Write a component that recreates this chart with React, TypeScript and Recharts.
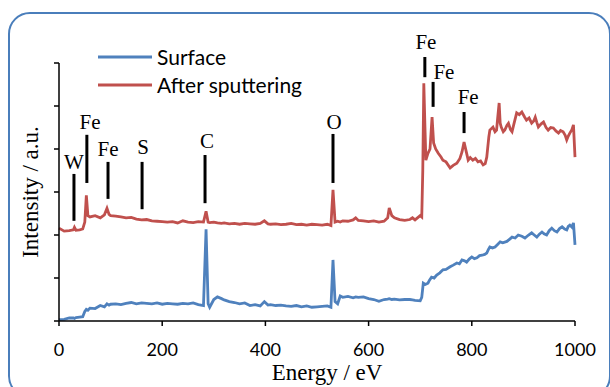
import { LineChart, Line, XAxis, YAxis, ReferenceLine, ReferenceDot } from "recharts";

// XPS survey spectra, energy in eV, intensity in arbitrary units
// low-energy part, shared energy grid (0 - 690 eV)
const lowEnergy = [
  0, 10, 20, 28, 30, 33, 40, 46, 50, 53, 56, 60, 70, 80, 88, 93, 97, 100, 110, 120,
  130, 140, 150, 160, 170, 180, 190, 200, 210, 220, 230, 240, 250, 260, 270, 280, 285, 289, 292, 300,
  307, 315, 320, 330, 340, 350, 360, 370, 380, 390, 398, 405, 410, 420, 430, 440, 450, 460, 470, 480,
  490, 500, 510, 520, 527, 531, 535, 540, 545, 550, 560, 570, 575, 580, 590, 600, 610, 620, 630, 637,
  640, 645, 650, 660, 670, 680, 685, 690,
];

const surfaceLow = [
  0.03, 0.04, 0.07, 0.07, 0.06, 0.08, 0.09, 0.1, 0.22, 0.27, 0.25, 0.3, 0.29, 0.36, 0.33, 0.4, 0.37, 0.39, 0.4, 0.38,
  0.41, 0.43, 0.4, 0.42, 0.41, 0.4, 0.42, 0.39, 0.41, 0.4, 0.39, 0.41, 0.4, 0.42, 0.38, 0.36, 2.13, 0.4, 0.32, 0.5,
  0.56, 0.52, 0.49, 0.45, 0.43, 0.4, 0.42, 0.36, 0.38, 0.35, 0.45, 0.37, 0.38, 0.36, 0.37, 0.35, 0.34, 0.36, 0.33, 0.35,
  0.32, 0.33, 0.34, 0.35, 0.32, 1.42, 0.45, 0.4, 0.58, 0.55, 0.57, 0.54, 0.56, 0.55, 0.56, 0.52, 0.5, 0.46, 0.5, 0.51,
  0.52, 0.5, 0.51, 0.49, 0.5, 0.5, 0.49, 0.48,
];

const sputteredLow = [
  2.16, 2.09, 2.1, 2.12, 2.18, 2.11, 2.12, 2.14, 2.3, 2.92, 2.45, 2.42, 2.45, 2.4, 2.47, 2.62, 2.48, 2.45, 2.44, 2.42,
  2.4, 2.41, 2.37, 2.35, 2.36, 2.33, 2.32, 2.31, 2.3, 2.31, 2.28, 2.33, 2.3, 2.29, 2.31, 2.3, 2.55, 2.3, 2.29, 2.3,
  2.28, 2.27, 2.28, 2.26, 2.27, 2.25, 2.27, 2.26, 2.25, 2.27, 2.33, 2.26, 2.25, 2.26, 2.24, 2.25, 2.27, 2.24, 2.25, 2.23,
  2.25, 2.24, 2.23, 2.25, 2.22, 3.05, 2.3, 2.32, 2.3, 2.33, 2.32, 2.35, 2.4, 2.34, 2.33, 2.31, 2.33, 2.3, 2.32, 2.4,
  2.63, 2.45, 2.4, 2.36, 2.34, 2.36, 2.4, 2.35,
];

// high-energy part (700 - 1000 eV), each series on its own grid
const surfaceTailEnergy = [
  700, 703, 706, 710, 715, 718, 722, 727, 732, 738, 744, 750, 758, 764, 771, 776, 781, 786, 790, 795,
  800, 805, 810, 815, 820, 825, 829, 832, 835, 840, 845, 850, 855, 860, 868, 873, 878, 884, 890, 897,
  903, 910, 916, 921, 926, 931, 936, 940, 945, 950, 955, 960, 965, 970, 975, 980, 984, 987, 990, 994,
  997, 1000,
];
const surfaceTail = [
  0.47, 0.55, 0.88, 0.85, 0.88, 0.95, 1.02, 1.0, 1.07, 1.12, 1.19, 1.2, 1.26, 1.3, 1.35, 1.33, 1.42, 1.4, 1.37, 1.44,
  1.49, 1.45, 1.47, 1.52, 1.53, 1.55, 1.58, 1.66, 1.72, 1.7, 1.72, 1.78, 1.84, 1.82, 1.85, 1.9, 1.95, 1.93, 2.0, 1.97,
  1.93, 2.0, 2.05, 2.0, 1.95, 2.02, 2.07, 2.03, 2.0, 2.1, 2.16, 2.1, 2.07, 2.15, 2.19, 2.14, 2.12, 2.2, 2.23, 2.18,
  2.28, 1.77,
];

const sputteredTailEnergy = [
  700, 703, 705, 707, 709, 711, 715, 719, 723, 726, 730, 735, 740, 744, 750, 758, 764, 771, 777, 781,
  785, 789, 793, 797, 802, 807, 812, 817, 822, 826, 829, 833, 835, 841, 845, 848, 850, 853, 855, 857,
  861, 864, 868, 871, 875, 878, 882, 887, 892, 897, 902, 906, 911, 916, 920, 923, 926, 929, 934, 939,
  944, 948, 953, 958, 963, 968, 972, 977, 981, 984, 987, 990, 994, 997, 1000,
];
const sputteredTail = [
  2.45, 2.42, 3.5, 5.53, 4.6, 3.74, 3.9, 4.0, 4.74, 4.14, 4.0, 3.9, 3.82, 3.74, 3.7, 3.56, 3.62, 3.67, 3.78, 3.93,
  4.16, 3.95, 3.74, 3.8, 3.74, 3.78, 3.7, 3.72, 3.63, 3.66, 3.81, 4.28, 4.44, 4.51, 4.4, 4.44, 4.7, 5.07, 4.6, 4.51,
  4.4, 4.44, 4.55, 4.6, 4.45, 4.4, 4.6, 4.84, 4.8, 4.86, 4.75, 4.67, 4.72, 4.6, 4.65, 4.74, 4.62, 4.51, 4.58, 4.63,
  4.5, 4.44, 4.5, 4.49, 4.42, 4.37, 4.43, 4.4, 4.32, 4.21, 4.3, 4.37, 4.45, 4.56, 3.81,
];

const xTicks = [0, 200, 400, 600, 800, 1000];
const yTicks = [0, 1, 2, 3, 4, 5, 6];

// peak markers (energy / intensity units)
const peakNames = ["W", "Fe", "Fe", "S", "C", "O", "Fe", "Fe", "Fe"];
const peakLineX = [29, 54, 95, 161, 283, 531, 709, 725, 785];
const peakLineTop = [3.42, 4.33, 3.7, 3.7, 3.86, 4.35, 6.14, 5.56, 4.86];
const peakLineBottom = [2.33, 3.21, 2.84, 2.6, 2.74, 3.21, 5.67, 4.98, 4.37];
const peakLabelX = [29, 60, 95, 163, 287, 533, 711, 746, 793];
const peakLabelY = [3.7, 4.63, 4.0, 4.05, 4.19, 4.63, 6.49, 5.81, 5.21];

const BLUE = "#4f81bd";
const RED = "#c0504d";
const SERIF = "'Liberation Serif', 'Times New Roman', serif";
const SANS = "Lato, Carlito, Calibri, sans-serif";

const toPoints = (xs: number[], ys: number[]) => xs.map((e, i) => ({ energy: e, value: ys[i] }));
const surfaceData = toPoints(lowEnergy.concat(surfaceTailEnergy), surfaceLow.concat(surfaceTail));
const sputteredData = toPoints(lowEnergy.concat(sputteredTailEnergy), sputteredLow.concat(sputteredTail));

const legendItems = [
  { name: "Surface", color: BLUE },
  { name: "After sputtering", color: RED },
];

function ChartLegend() {
  return (
    <div style={{ position: "absolute", left: 98, top: 43, fontFamily: SANS, fontSize: 21, color: "#000" }}>
      {legendItems.map((item) => (
        <div key={item.name} style={{ display: "flex", alignItems: "center", height: 28, lineHeight: "28px", whiteSpace: "nowrap" }}>
          <svg width={54} height={6} style={{ marginRight: 5 }}>
            <line x1={0} y1={3} x2={54} y2={3} stroke={item.color} strokeWidth={3} />
          </svg>
          <span>{item.name}</span>
        </div>
      ))}
    </div>
  );
}

export default function App() {
  return (
    <div style={{ position: "absolute", left: 0, top: 0, width: 610, height: 387, background: "#fff", overflow: "hidden" }}>
      <div
        style={{
          position: "absolute",
          left: 8,
          top: 12,
          width: 599,
          height: 382,
          border: "2px solid #4a7ebb",
          borderRadius: 22,
        }}
      />
      <div style={{ position: "absolute", left: 0, top: 0 }}>
        <LineChart width={610} height={387} margin={{ top: 63, right: 35, bottom: 0, left: 0 }}>
          <XAxis
            dataKey="energy"
            type="number"
            domain={[0, 1000]}
            ticks={xTicks}
            height={66}
            tickSize={5}
            tickMargin={17}
            allowDuplicatedCategory={false}
            axisLine={{ stroke: "#000", strokeWidth: 1.5 }}
            tickLine={{ stroke: "#000", strokeWidth: 1.5 }}
            tick={{ fill: "#000", fontSize: 18, fontFamily: SANS }}
            label={{ value: "Energy / eV", position: "insideBottom", offset: 7, dx: 10, fill: "#000", fontSize: 23, fontFamily: SERIF }}
          />
          <YAxis
            type="number"
            domain={[0, 6]}
            ticks={yTicks}
            width={59}
            tickSize={5}
            tickFormatter={() => ""}
            axisLine={{ stroke: "#000", strokeWidth: 1.5 }}
            tickLine={{ stroke: "#000", strokeWidth: 1.5 }}
            label={{ value: "Intensity / a.u.", angle: -90, position: "center", fill: "#000", fontSize: 23, fontFamily: SERIF }}
          />
          <Line data={surfaceData} type="linear" dataKey="value" name="Surface" stroke={BLUE} strokeWidth={2.8} dot={false} isAnimationActive={false} />
          <Line data={sputteredData} type="linear" dataKey="value" name="After sputtering" stroke={RED} strokeWidth={2.8} dot={false} isAnimationActive={false} />
          {peakNames.map((name, i) => (
            <ReferenceLine
              key={"l" + i}
              segment={[
                { x: peakLineX[i], y: peakLineTop[i] },
                { x: peakLineX[i], y: peakLineBottom[i] },
              ]}
              stroke="#000"
              strokeWidth={3}
              ifOverflow="visible"
            />
          ))}
          {peakNames.map((name, i) => (
            <ReferenceDot
              key={"d" + i}
              x={peakLabelX[i]}
              y={peakLabelY[i]}
              r={0}
              fill="none"
              stroke="none"
              ifOverflow="visible"
              label={{ value: name, position: "center", fill: "#000", fontSize: 21, fontFamily: SERIF }}
            />
          ))}
        </LineChart>
      </div>
      <ChartLegend />
    </div>
  );
}
